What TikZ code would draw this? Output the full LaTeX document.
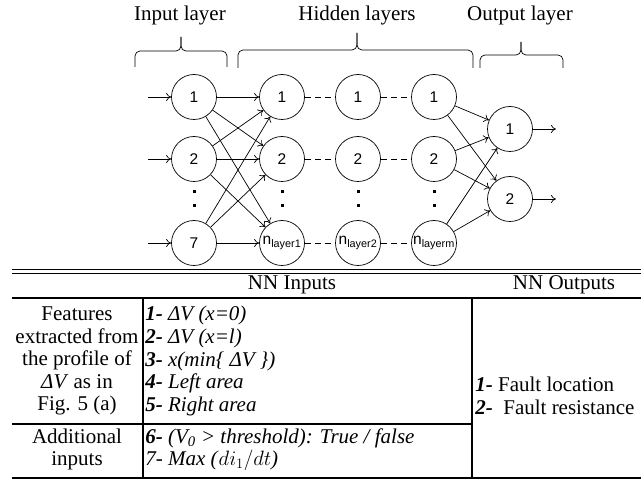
\documentclass[tikz,border=0pt]{standalone}
\usepackage{fontspec}
\setmainfont{Liberation Serif}
\newfontfamily\arialfont{Liberation Sans}
\usetikzlibrary{arrows.meta}

\begin{document}
\begin{tikzpicture}[x=1pt,y=-1pt,line width=0.7pt,>={To[length=5pt,width=8pt]}]

      \useasboundingbox (0,0) rectangle (641,481);

      % layer titles and braces
      \begin{scope}[every node/.style={font=\fontsize{21}{23}\selectfont}]
        \node (inlab)  at (180,15) {Input layer};
        \node (hidlab) at (357,15) {Hidden layers};
        \node (outlab) at (520,15) {Output layer};
      \end{scope}

      \begin{scope}[rounded corners=5pt]
        \draw (181,37) -- (181,51) -| (135,67);
        \draw (181,37) -- (181,51) -| (227,67);
        \draw (357,33) -- (357,50) -| (238,68);
        \draw (357,33) -- (357,50) -| (473,68);
        \draw (521,42) -- (521,55) -| (480,68);
        \draw (521,42) -- (521,55) -| (563,68);
      \end{scope}

      % neurons
      \begin{scope}[every node/.style={circle,draw,minimum size=45pt,inner sep=0pt,
          font=\arialfont\fontsize{15.5}{15.5}\selectfont}]
        \node (i1) at (194,97)  {1};
        \node (i2) at (194,159) {2};
        \node (i7) at (194,243) {7};
        \node (a1) at (282,97)  {1};
        \node (a2) at (282,159) {2};
        \node (an) at (282,243) {n\textsubscript{layer1}};
        \node (b1) at (358,97)  {1};
        \node (b2) at (358,159) {2};
        \node (bn) at (358,243) {n\textsubscript{layer2}};
        \node (m1) at (434,97)  {1};
        \node (m2) at (434,159) {2};
        \node (mn) at (434,243) {n\textsubscript{layerm}};
        \node (o1) at (510,129) {1};
        \node (o2) at (510,199) {2};
      \end{scope}

      \coordinate (x1) at (148,97);
      \coordinate (x2) at (148,159);
      \coordinate (x7) at (148,243);
      \coordinate (y1) at (556,129);
      \coordinate (y2) at (556,199);

      % vertical dots
      \foreach \x in {194,282,358,434} {
        \fill (\x-1.5,190.5) rectangle +(3,3);
        \fill (\x-1.5,204.5) rectangle +(3,3);
      }

      % connections
      \draw[->] (x1) -- (i1);
      \draw[->] (x2) -- (i2);
      \draw[->] (x7) -- (i7);
      \foreach \s in {i1,i2,i7} {
        \foreach \t in {a1,a2,an} {
          \draw[->] (\s) -- (\t);
        }
      }
      \foreach \s in {m1,m2,mn} {
        \foreach \t in {o1,o2} {
          \draw[->] (\s) -- (\t);
        }
      }
      \draw[->] (o1) -- (y1);
      \draw[->] (o2) -- (y2);

      \begin{scope}[dash pattern=on 6pt off 4pt]
        \draw (a1) -- (b1);
        \draw (b1) -- (m1);
        \draw (a2) -- (b2);
        \draw (b2) -- (m2);
        \draw (an) -- (bn);
        \draw (bn) -- (mn);
      \end{scope}

      % table
      \begin{scope}[line width=1.4pt]
        \draw (12,269.5) -- (641,269.5);
        \draw (12,273.5) -- (641,273.5);
        \draw (12,298) -- (641,298);
        \draw (143,298) -- (143,478);
        \draw (472,298) -- (472,478);
        \draw (12,424) -- (472,424);
        \draw (12,478) -- (641,478);
      \end{scope}

      \begin{scope}[every node/.style={inner sep=0pt,font=\fontsize{21}{22.6}\selectfont}]
        \node (nnin)  at (292,285) {NN Inputs};
        \node (nnout) at (564,285) {NN Outputs};
        \node[align=center] (feat) at (77,361)
          {Features\\extracted from\\the profile of\\\textit{ΔV} as in\\Fig. 5 (a)};
        \node[align=center] (addin) at (77,449.5) {Additional\\inputs};
        \node[align=left,anchor=west] (featlist) at (145,361)
          {\textbf{\textit{1-}} \textit{ΔV (x=0)}\\
           \textbf{\textit{2-}} \textit{ΔV (x=l)}\\
           \textbf{\textit{3-}} \textit{x(min\{ ΔV \})}\\
           \textbf{\textit{4-}} \textit{Left area}\\
           \textbf{\textit{5-}} \textit{Right area}};
        \node[align=left,anchor=west] (addlist) at (145,449.5)
          {\textbf{\textit{6-}} \textit{(V\textsubscript{0} > threshold): True / false}\\
           \textit{7- Max (}$di_1/dt$\textit{)}};
        \node[align=left,anchor=west] (outlist) at (475,396)
          {\textbf{\textit{1-}} Fault location\\
           \textbf{\textit{2-}}\ \ Fault resistance};
      \end{scope}

    \end{tikzpicture}
\end{document}
